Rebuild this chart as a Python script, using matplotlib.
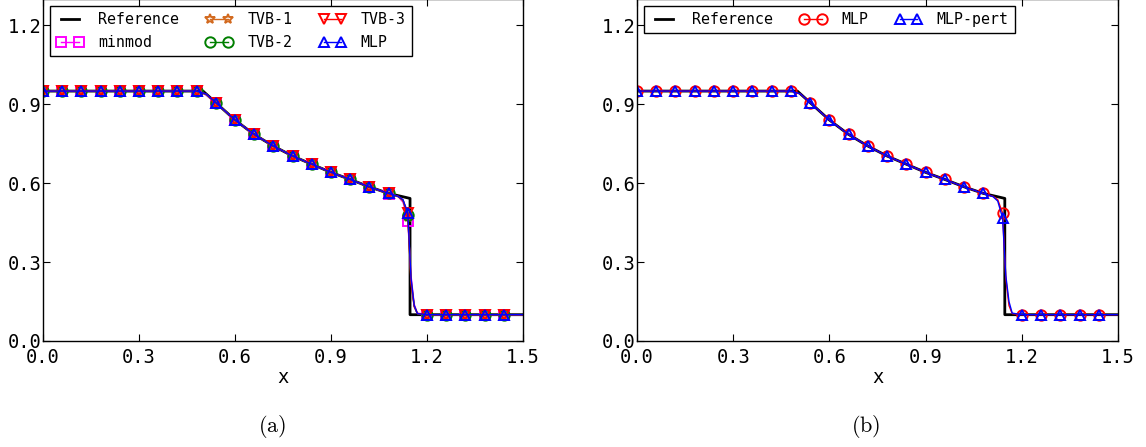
import matplotlib
matplotlib.use("Agg")
import matplotlib.pyplot as plt
import numpy as np

plt.rcParams["font.family"] = ["DejaVu Sans Mono"]
plt.rcParams["mathtext.fontset"] = "cm"

# Reference (exact) solution
x_ref = [0.00, 0.50, 0.54, 0.60, 0.66, 0.72, 0.78, 0.84, 0.90, 0.96, 1.02, 1.08, 1.147, 1.147, 1.50]
rho_ref = [0.95, 0.95, 0.906, 0.840, 0.785, 0.741, 0.703, 0.672, 0.641, 0.614, 0.586, 0.561, 0.542, 0.10, 0.10]

# Numerical solutions sampled along x
x_num = [0.00, 0.06, 0.12, 0.18, 0.24, 0.30, 0.36, 0.42, 0.48, 0.51,
         0.54, 0.60, 0.66, 0.72, 0.78, 0.84, 0.90, 0.96, 1.02, 1.08,
         1.11, 1.125, 1.14, 1.15, 1.16, 1.17, 1.20, 1.26, 1.32, 1.38,
         1.44, 1.50]
x_marks = [0.00, 0.06, 0.12, 0.18, 0.24, 0.30, 0.36, 0.42, 0.48,
           0.54, 0.60, 0.66, 0.72, 0.78, 0.84, 0.90, 0.96, 1.02, 1.08,
           1.14, 1.20, 1.26, 1.32, 1.38, 1.44]

rho_minmod = [0.95, 0.95, 0.95, 0.95, 0.95, 0.95, 0.95, 0.95, 0.949, 0.935,
              0.905, 0.840, 0.785, 0.741, 0.703, 0.672, 0.641, 0.614, 0.586, 0.560,
              0.548, 0.528, 0.455, 0.250, 0.140, 0.106, 0.10, 0.10, 0.10, 0.10,
              0.10, 0.10]
rho_tvb1 = [0.95, 0.95, 0.95, 0.95, 0.95, 0.95, 0.95, 0.95, 0.949, 0.937,
            0.905, 0.840, 0.785, 0.741, 0.703, 0.672, 0.641, 0.614, 0.586, 0.561,
            0.549, 0.533, 0.472, 0.235, 0.135, 0.105, 0.10, 0.10, 0.10, 0.10,
            0.10, 0.10]
rho_tvb2 = [0.95, 0.95, 0.95, 0.95, 0.95, 0.95, 0.95, 0.95, 0.949, 0.938,
            0.906, 0.840, 0.785, 0.741, 0.703, 0.672, 0.641, 0.614, 0.586, 0.561,
            0.549, 0.535, 0.480, 0.225, 0.132, 0.104, 0.10, 0.10, 0.10, 0.10,
            0.10, 0.10]
rho_tvb3 = [0.95, 0.95, 0.95, 0.95, 0.95, 0.95, 0.95, 0.95, 0.950, 0.939,
            0.906, 0.840, 0.785, 0.741, 0.703, 0.672, 0.641, 0.614, 0.586, 0.561,
            0.550, 0.536, 0.485, 0.220, 0.130, 0.104, 0.10, 0.10, 0.10, 0.10,
            0.10, 0.10]
rho_mlp = [0.95, 0.95, 0.95, 0.95, 0.95, 0.95, 0.95, 0.95, 0.950, 0.939,
           0.906, 0.840, 0.785, 0.741, 0.703, 0.672, 0.641, 0.614, 0.586, 0.561,
           0.550, 0.537, 0.487, 0.240, 0.135, 0.104, 0.10, 0.10, 0.10, 0.10,
           0.10, 0.10]
rho_mlp_pert = [0.95, 0.95, 0.95, 0.95, 0.95, 0.95, 0.95, 0.95, 0.950, 0.939,
                0.906, 0.840, 0.785, 0.741, 0.703, 0.672, 0.641, 0.614, 0.586, 0.561,
                0.549, 0.532, 0.468, 0.250, 0.150, 0.106, 0.10, 0.10, 0.10, 0.10,
                0.10, 0.10]

x_ticks = [0.0, 0.3, 0.6, 0.9, 1.2, 1.5]
y_ticks = [0.0, 0.3, 0.6, 0.9, 1.2]

mark_idx = [i for i, v in enumerate(x_num) if v in x_marks]

W, H = 1146, 447
fig = plt.figure(figsize=(W / 100, H / 100), dpi=100)

def px_axes(x0, x1, ytop, ybot):
    return fig.add_axes([x0 / W, 1 - ybot / H, (x1 - x0) / W, (ybot - ytop) / H])

ax_a = px_axes(43, 523, -1, 341)
ax_b = px_axes(637, 1118, -1, 341)

sym = dict(fillstyle="none", markersize=7.5, markeredgewidth=1.4,
           linewidth=1.0, markevery=mark_idx)

ax_a.plot(x_ref, rho_ref, color="k", linewidth=2.0, label="Reference")
ax_a.plot(x_num, rho_minmod, color="#ff00ff", marker="s", label="minmod", **sym)
ax_a.plot(x_num, rho_tvb1, color="#d2691e", marker="*", label="TVB-1", **sym)
ax_a.plot(x_num, rho_tvb2, color="#007f00", marker="o", label="TVB-2", **sym)
ax_a.plot(x_num, rho_tvb3, color="#ff0000", marker="v", label="TVB-3", **sym)
ax_a.plot(x_num, rho_mlp, color="#0000ff", marker="^", label="MLP", **sym)

ax_b.plot(x_ref, rho_ref, color="k", linewidth=2.0, label="Reference")
ax_b.plot(x_num, rho_mlp, color="#ff0000", marker="o", label="MLP", **sym)
ax_b.plot(x_num, rho_mlp_pert, color="#0000ff", marker="^", label="MLP-pert", **sym)

for ax in (ax_a, ax_b):
    ax.set_xlim(0, 1.5)
    ax.set_ylim(0, 1.3)
    ax.set_xticks(x_ticks)
    ax.set_yticks(y_ticks)
    ax.set_xticklabels([f"{t:.1f}" for t in x_ticks])
    ax.set_yticklabels([f"{t:.1f}" for t in y_ticks])
    ax.tick_params(direction="in", top=True, right=True, length=5, width=0.8,
                   labelsize=13.5)
    ax.tick_params(axis="x", pad=5)
    ax.tick_params(axis="y", pad=1)
    for s in ax.spines.values():
        s.set_linewidth(1.0)
    ax.set_xlabel("x", fontsize=13.5, labelpad=1)

leg_kw = dict(loc="upper left", fontsize=10.7, numpoints=2, fancybox=False,
              edgecolor="k", framealpha=1, handlelength=1.8, handletextpad=1.0,
              columnspacing=1.8, borderpad=0.4, borderaxespad=0.5)
la = ax_a.legend(ncol=3, **leg_kw)
lb = ax_b.legend(ncol=3, **leg_kw)
for lg in (la, lb):
    lg.get_frame().set_linewidth(1.0)

fig.text(272 / W, 1 - 427 / H, r"$\mathrm{(a)}$", ha="center", va="center", fontsize=16)
fig.text(866 / W, 1 - 427 / H, r"$\mathrm{(b)}$", ha="center", va="center", fontsize=16)

fig.savefig("out.png", dpi=100)
